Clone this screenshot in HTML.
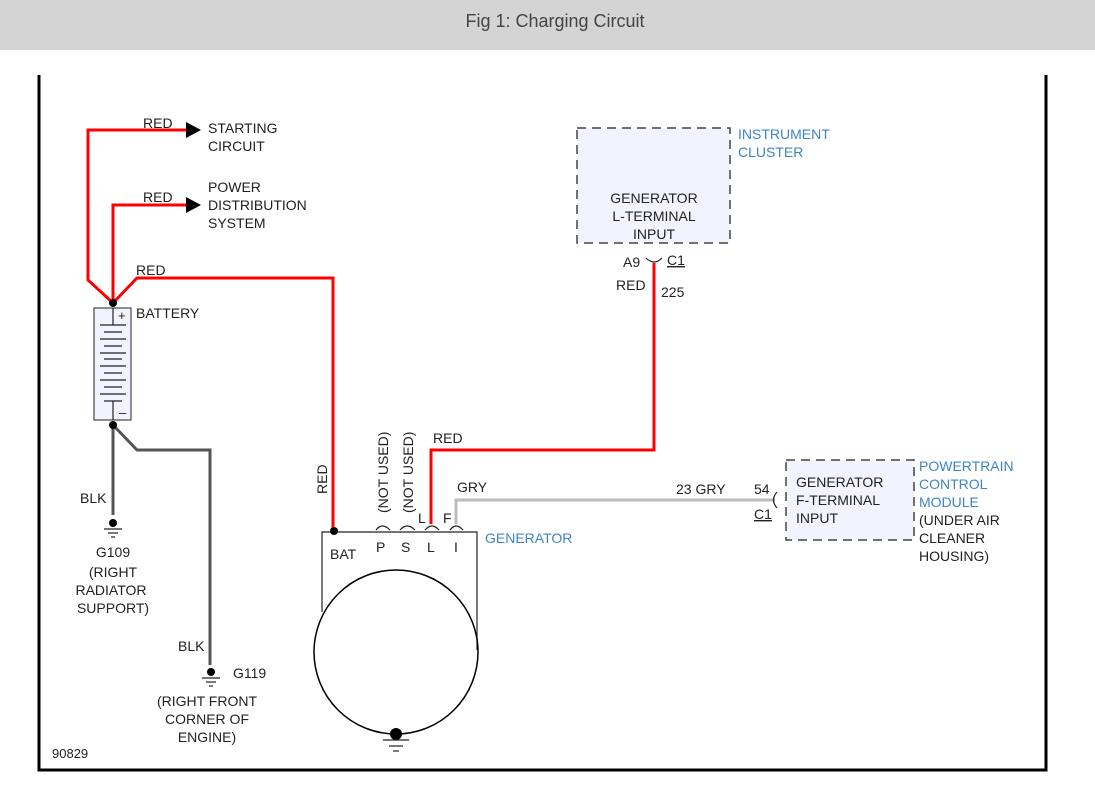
<!DOCTYPE html>
<html><head><meta charset="utf-8"><style>
html,body{margin:0;padding:0;background:#fff;width:1095px;height:792px;overflow:hidden}
svg{display:block}
text{font-family:"Liberation Sans",sans-serif;font-size:14px;fill:#222}
.b{fill:#3d85c6}
</style></head><body>
<svg width="1095" height="792" viewBox="0 0 1095 792">
<rect x="0" y="0" width="1095" height="50" fill="#d4d4d4"/>
<text x="555" y="27" text-anchor="middle" style="font-size:18px;fill:#444">Fig 1: Charging Circuit</text>
<!-- frame -->
<path d="M39 75V770H1046V75" fill="none" stroke="#000" stroke-width="3"/>
<!-- red wires -->
<g fill="none" stroke="#f00" stroke-width="3">
<path d="M113 303L88 280V130H188"/>
<path d="M113 303V205H188"/>
<path d="M113 303L137 278H333V531"/>
<path d="M431 524V450H654V263"/>
</g>
<polygon points="186,122 201,130 186,138" fill="#000"/>
<polygon points="186,197 201,205 186,213" fill="#000"/>
<!-- gray -->
<path d="M456 524V500H775" fill="none" stroke="#bbb" stroke-width="3"/>
<!-- blk -->
<g fill="none" stroke="#555" stroke-width="3">
<path d="M113 425V515"/>
<path d="M113 425L137 450H210V665"/>
</g>
<!-- battery -->
<rect x="94" y="308" width="37" height="112" fill="#f3f3ff" stroke="#222" stroke-width="1"/>
<g stroke="#222" stroke-width="1.2">
<line x1="113" y1="308" x2="113" y2="325"/>
<line x1="100" y1="325" x2="126" y2="325"/><line x1="104" y1="332" x2="122" y2="332"/>
<line x1="100" y1="339" x2="126" y2="339"/><line x1="104" y1="346" x2="122" y2="346"/>
<line x1="100" y1="353" x2="126" y2="353"/><line x1="104" y1="359" x2="122" y2="359"/>
<line x1="100" y1="366" x2="126" y2="366"/><line x1="104" y1="373" x2="122" y2="373"/>
<line x1="100" y1="380" x2="126" y2="380"/><line x1="104" y1="387" x2="122" y2="387"/>
<line x1="100" y1="394" x2="126" y2="394"/><line x1="104" y1="401" x2="122" y2="401"/>
<line x1="113" y1="401" x2="113" y2="420"/>
</g>
<text x="118" y="320" style="font-size:13px">+</text>
<text x="119" y="417" style="font-size:13px">–</text>
<circle cx="113" cy="303" r="4" fill="#000"/>
<circle cx="113" cy="425" r="4" fill="#000"/>
<!-- grounds -->
<g stroke="#222" stroke-width="1.2">
<circle cx="113" cy="523" r="4" fill="#000" stroke="none"/>
<line x1="104" y1="529" x2="122" y2="529"/><line x1="108" y1="533" x2="118" y2="533"/><line x1="111" y1="537" x2="115" y2="537"/>
<circle cx="211" cy="672" r="4" fill="#000" stroke="none"/>
<line x1="202" y1="678" x2="220" y2="678"/><line x1="206" y1="682" x2="216" y2="682"/><line x1="209" y1="686" x2="213" y2="686"/>
<circle cx="396" cy="734" r="6" fill="#000" stroke="none"/>
<line x1="383" y1="740" x2="409" y2="740"/><line x1="389" y1="746" x2="403" y2="746"/><line x1="393" y1="751" x2="399" y2="751"/>
</g>
<!-- generator -->
<path d="M322 612V532H477V650" fill="none" stroke="#222" stroke-width="1.2"/>
<circle cx="396" cy="652" r="82" fill="none" stroke="#000" stroke-width="1.5"/>
<circle cx="334" cy="531" r="4" fill="#000"/>
<g fill="none" stroke="#222" stroke-width="1.2">
<path d="M376 530Q382 522 390 530"/><path d="M400 530Q407 522 415 530"/>
<path d="M425 530Q432 522 439 530"/><path d="M450 530Q456 522 463 530"/>
<path d="M646 258Q654 266 662 258"/>
<path d="M777 492Q770 500 777 508"/>
</g>
<!-- boxes -->
<rect x="577" y="128" width="153" height="115" fill="#f3f3ff" stroke="#444" stroke-width="1.5" stroke-dasharray="9,6"/>
<rect x="786" y="460" width="128" height="80" fill="#f3f3ff" stroke="#444" stroke-width="1.5" stroke-dasharray="9,6"/>
<!-- labels -->
<text x="143" y="128">RED</text>
<text x="208" y="133">STARTING</text><text x="208" y="151">CIRCUIT</text>
<text x="143" y="202">RED</text>
<text x="208" y="192">POWER</text><text x="208" y="210">DISTRIBUTION</text><text x="208" y="228">SYSTEM</text>
<text x="136" y="275">RED</text>
<text x="136" y="318">BATTERY</text>
<text x="80" y="503">BLK</text>
<text x="113" y="557" text-anchor="middle">G109</text>
<text x="113" y="577" text-anchor="middle">(RIGHT</text>
<text x="111" y="595" text-anchor="middle">RADIATOR</text>
<text x="113" y="613" text-anchor="middle">SUPPORT)</text>
<text x="178" y="651">BLK</text>
<text x="233" y="678">G119</text>
<text x="207" y="706" text-anchor="middle">(RIGHT FRONT</text>
<text x="207" y="724" text-anchor="middle">CORNER OF</text>
<text x="207" y="742" text-anchor="middle">ENGINE)</text>
<text x="52" y="758" style="font-size:13px">90829</text>
<text transform="translate(327,494) rotate(-90)">RED</text>
<text transform="translate(388,513) rotate(-90)">(NOT USED)</text>
<text transform="translate(413,513) rotate(-90)">(NOT USED)</text>
<text x="433" y="443">RED</text>
<text x="457" y="492">GRY</text>
<text x="418" y="523">L</text>
<text x="443" y="523">F</text>
<text x="330" y="559">BAT</text>
<text x="376" y="552">P</text><text x="401" y="552">S</text><text x="427" y="552">L</text><text x="454" y="552">I</text>
<text x="485" y="543" class="b">GENERATOR</text>
<text x="738" y="139" class="b">INSTRUMENT</text>
<text x="738" y="157" class="b">CLUSTER</text>
<text x="654" y="203" text-anchor="middle">GENERATOR</text>
<text x="654" y="221" text-anchor="middle">L-TERMINAL</text>
<text x="654" y="239" text-anchor="middle">INPUT</text>
<text x="623" y="267">A9</text>
<text x="667" y="265" text-decoration="underline">C1</text>
<text x="616" y="290">RED</text>
<text x="661" y="297">225</text>
<text x="676" y="494">23 GRY</text>
<text x="754" y="494">54</text>
<text x="754" y="519" text-decoration="underline">C1</text>
<text x="796" y="487">GENERATOR</text>
<text x="796" y="505">F-TERMINAL</text>
<text x="796" y="523">INPUT</text>
<text x="919" y="471" class="b">POWERTRAIN</text>
<text x="919" y="489" class="b">CONTROL</text>
<text x="919" y="507" class="b">MODULE</text>
<text x="919" y="525">(UNDER AIR</text>
<text x="919" y="543">CLEANER</text>
<text x="919" y="561">HOUSING)</text>
</svg>
</body></html>
